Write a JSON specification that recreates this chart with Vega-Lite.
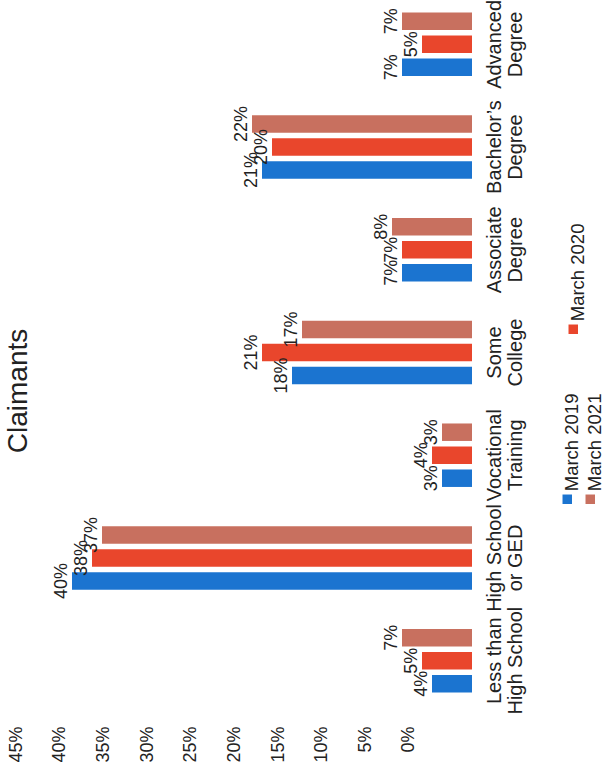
{
  "$schema": "https://vega.github.io/schema/vega-lite/v6.json",
  "width": 472,
  "height": 712,
  "autosize": {"type": "none"},
  "padding": {"left": 0, "top": 0, "right": 131, "bottom": 57},
  "background": "white",
  "title": {
    "text": "Claimants",
    "orient": "left",
    "anchor": "middle",
    "frame": "group",
    "offset": -33,
    "dx": -35,
    "fontSize": 28,
    "fontWeight": "normal",
    "font": "Liberation Sans",
    "color": "#222222"
  },
  "config": {
    "view": {"stroke": null},
    "font": "Liberation Sans",
    "legend": {
      "title": null,
      "orient": "none",
      "direction": "horizontal",
      "symbolType": "square",
      "symbolSize": 90,
      "symbolOpacity": 1,
      "symbolStrokeWidth": 0,
      "labelFont": "Liberation Sans",
      "labelFontSize": 18.5,
      "labelColor": "#222222",
      "labelAlign": "left",
      "labelBaseline": "middle",
      "labelOffset": -5,
      "columnPadding": 0,
      "padding": 0
    }
  },
  "data": {
    "values": [
      {"edu": "Advanced|Degree", "series": "March 2019", "value": 0.07},
      {"edu": "Advanced|Degree", "series": "March 2020", "value": 0.05},
      {"edu": "Advanced|Degree", "series": "March 2021", "value": 0.07},
      {"edu": "Bachelor’s|Degree", "series": "March 2019", "value": 0.21},
      {"edu": "Bachelor’s|Degree", "series": "March 2020", "value": 0.20},
      {"edu": "Bachelor’s|Degree", "series": "March 2021", "value": 0.22},
      {"edu": "Associate|Degree", "series": "March 2019", "value": 0.07},
      {"edu": "Associate|Degree", "series": "March 2020", "value": 0.07},
      {"edu": "Associate|Degree", "series": "March 2021", "value": 0.08},
      {"edu": "Some|College", "series": "March 2019", "value": 0.18},
      {"edu": "Some|College", "series": "March 2020", "value": 0.21},
      {"edu": "Some|College", "series": "March 2021", "value": 0.17},
      {"edu": "Vocational|Training", "series": "March 2019", "value": 0.03},
      {"edu": "Vocational|Training", "series": "March 2020", "value": 0.04},
      {"edu": "Vocational|Training", "series": "March 2021", "value": 0.03},
      {"edu": "High School|or GED", "series": "March 2019", "value": 0.40},
      {"edu": "High School|or GED", "series": "March 2020", "value": 0.38},
      {"edu": "High School|or GED", "series": "March 2021", "value": 0.37},
      {"edu": "Less than|High School", "series": "March 2019", "value": 0.04},
      {"edu": "Less than|High School", "series": "March 2020", "value": 0.05},
      {"edu": "Less than|High School", "series": "March 2021", "value": 0.07}
    ]
  },
  "layer": [
    {
      "mark": {"type": "bar"},
      "encoding": {
        "y": {
          "field": "edu",
          "type": "nominal",
          "sort": ["Advanced|Degree", "Bachelor’s|Degree", "Associate|Degree", "Some|College", "Vocational|Training", "High School|or GED", "Less than|High School"],
          "scale": {"range": [-7, 712], "paddingInner": 0, "paddingOuter": 0},
          "axis": {
            "orient": "right",
            "title": null,
            "domain": false,
            "ticks": false,
            "labelAngle": 270,
            "labelAlign": "center",
            "labelBaseline": "top",
            "labelPadding": 12,
            "labelFontSize": 20,
            "labelLineHeight": 21,
            "labelColor": "#222222",
            "labelFont": "Liberation Sans",
            "labelExpr": "split(datum.label, '|')"
          }
        },
        "yOffset": {
          "field": "series",
          "sort": ["March 2021", "March 2020", "March 2019"],
          "scale": {"paddingInner": 0.24, "paddingOuter": 0.853}
        },
        "x": {
          "field": "value",
          "type": "quantitative",
          "scale": {"domain": [0, 0.472], "reverse": true, "nice": false},
          "axis": null
        },
        "color": {
          "field": "series",
          "type": "nominal",
          "scale": {"domain": ["March 2019", "March 2020", "March 2021"], "range": ["#1b74d0", "#e9462c", "#c8705f"]},
          "legend": {
            "values": ["March 2019", "March 2021"],
            "legendX": 558,
            "legendY": 490,
            "encoding": {"labels": {"angle": {"value": 270}, "dx": {"value": 8}}}
          }
        }
      }
    },
    {
      "mark": {"type": "text", "angle": 270, "align": "center", "baseline": "bottom", "dy": -1, "fontSize": 18, "color": "#222222", "font": "Liberation Sans"},
      "encoding": {
        "y": {"field": "edu", "type": "nominal", "sort": ["Advanced|Degree", "Bachelor’s|Degree", "Associate|Degree", "Some|College", "Vocational|Training", "High School|or GED", "Less than|High School"]},
        "yOffset": {"field": "series", "sort": ["March 2021", "March 2020", "March 2019"]},
        "x": {
          "field": "value",
          "type": "quantitative",
          "scale": {"domain": [0, 0.472], "reverse": true, "nice": false},
          "axis": null
        },
        "text": {"field": "value", "type": "quantitative", "format": ".0%"}
      }
    },
    {
      "mark": {"type": "point", "opacity": 0, "filled": true},
      "encoding": {
        "x": {
          "field": "value",
          "type": "quantitative",
          "scale": {"domain": [-0.0722, 0.4686], "reverse": true, "nice": false, "zero": false},
          "axis": {
            "orient": "bottom",
            "title": null,
            "values": [0, 0.05, 0.1, 0.15, 0.2, 0.25, 0.3, 0.35, 0.4, 0.45],
            "format": ".0%",
            "labelAngle": 270,
            "labelAlign": "right",
            "labelBaseline": "middle",
            "labelPadding": 14,
            "labelOverlap": false,
            "labelFlush": false,
            "ticks": false,
            "domain": false,
            "grid": false,
            "labelFontSize": 18,
            "labelColor": "#222222",
            "labelFont": "Liberation Sans"
          }
        },
        "color": {
          "field": "series",
          "type": "nominal",
          "legend": {
            "values": ["March 2020"],
            "legendX": 564,
            "legendY": 320,
            "encoding": {"labels": {"angle": {"value": 270}, "dx": {"value": 8}}}
          }
        }
      }
    }
  ],
  "resolve": {"scale": {"x": "independent"}, "legend": {"color": "independent"}}
}
